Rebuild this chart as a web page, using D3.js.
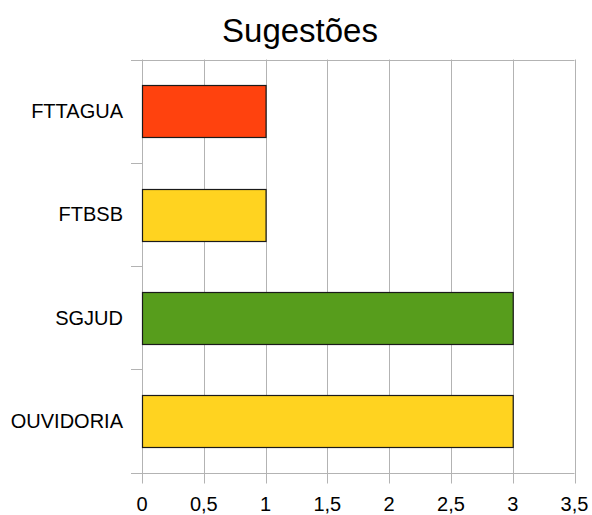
<!DOCTYPE html>
<html>
<head>
<meta charset="utf-8">
<style>
body { margin: 0; background: #fff; }
svg { display: block; font-family: "Liberation Sans", Arial, sans-serif; }
.grid line { stroke: #b3b3b3; stroke-width: 1; }
.lbl { font-size: 20px; fill: #000; }
</style>
</head>
<body>
<svg id="chart" width="592" height="515"></svg>
<script src="https://d3js.org/d3.v7.min.js"></script>
<script>
// data
var categories = ["FTTAGUA", "FTBSB", "SGJUD", "OUVIDORIA"];
var values = [1, 1, 3, 3];
var colors = ["#ff420e", "#ffd320", "#579d1c", "#ffd320"];
var xTicks = [0, 0.5, 1, 1.5, 2, 2.5, 3, 3.5];
var xTickLabels = ["0", "0,5", "1", "1,5", "2", "2,5", "3", "3,5"];

var svg = d3.select("#chart");
var plotLeft = 142, plotRight = 574.5, plotTop = 59.5, plotBottom = 472.5;

var x = d3.scaleLinear().domain([0, 3.5]).range([plotLeft, plotRight]);
var y = d3.scaleBand().domain(categories).range([plotTop, plotBottom])
  .paddingInner(0.5).paddingOuter(0.25);

// title
svg.append("text")
  .attr("x", 300)
  .attr("y", 42)
  .attr("text-anchor", "middle")
  .style("font-size", "33px")
  .text("Sugestões");

var grid = svg.append("g").attr("class", "grid");

// vertical gridlines, running down into the tick marks
grid.selectAll(".v")
  .data(xTicks).enter()
  .append("line")
  .attr("x1", d => Math.round(x(d)) + 0.5)
  .attr("x2", d => Math.round(x(d)) + 0.5)
  .attr("y1", plotTop)
  .attr("y2", plotBottom + 11);

// band boundaries on the category axis
var bounds = d3.range(categories.length + 1).map(i => plotTop + i * (plotBottom - plotTop) / categories.length);
grid.selectAll(".h")
  .data(bounds).enter()
  .append("line")
  .attr("x1", plotLeft - 11)
  .attr("x2", d => (d === plotTop || d === plotBottom) ? plotRight : plotLeft)
  .attr("y1", d => Math.round(d) + 0.5)
  .attr("y2", d => Math.round(d) + 0.5);

// bars
svg.selectAll(".bar")
  .data(categories).enter()
  .append("rect")
  .attr("x", Math.round(x(0)) + 0.5)
  .attr("y", d => Math.round(y(d)) + 0.5)
  .attr("width", (d, i) => x(values[i]) - x(0))
  .attr("height", Math.round(y.bandwidth()))
  .attr("fill", (d, i) => colors[i])
  .attr("stroke", "#1a1a1a")
  .attr("stroke-width", 1.2);

// category labels
svg.selectAll(".cat")
  .data(categories).enter()
  .append("text")
  .attr("class", "lbl")
  .attr("x", 123)
  .attr("y", d => y(d) + y.bandwidth() / 2)
  .attr("dy", "0.35em")
  .attr("text-anchor", "end")
  .text(d => d);

// value tick labels
svg.selectAll(".xt")
  .data(xTicks).enter()
  .append("text")
  .attr("class", "lbl")
  .attr("x", d => x(d))
  .attr("y", 511)
  .attr("text-anchor", "middle")
  .text((d, i) => xTickLabels[i]);
</script>
</body>
</html>
